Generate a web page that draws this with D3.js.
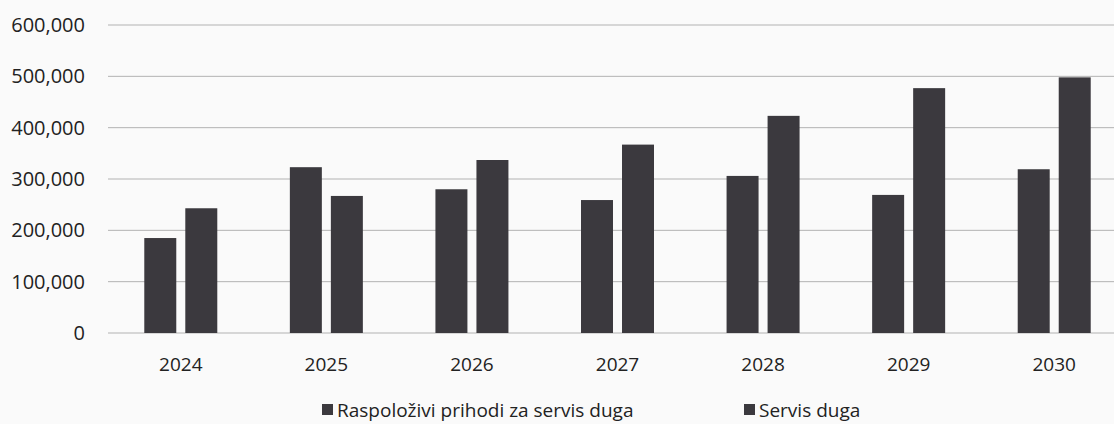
<!DOCTYPE html>
<html>
<head>
<meta charset="utf-8">
<script src="https://cdn.jsdelivr.net/npm/d3@7"></script>
<style>
  body { margin: 0; background: #fafafa; }
  svg { display: block; font-family: "Open Sans", sans-serif; }
</style>
</head>
<body>
<div id="chart"></div>
<script>
// chart values
var years = ["2024", "2025", "2026", "2027", "2028", "2029", "2030"];
var seriesNames = ["Raspoloživi prihodi za servis duga", "Servis duga"];
var available = [185000, 323000, 280000, 259000, 306000, 269000, 319000];
var debtService = [243000, 267000, 337000, 367000, 423000, 477000, 498000];
var yTicks = [0, 100000, 200000, 300000, 400000, 500000, 600000];

function init() {
  var w = 1114;
  var h = 424;
  var left = 108;
  var barColor = "#3b393e";

  var svg = d3.select("#chart")
    .append("svg")
    .attr("width", w)
    .attr("height", h);

  //scales
  var yScale = d3.scaleLinear().domain([0, 600000]).range([333, 25]);
  var xScale = d3.scaleBand().domain(years).range([left, 1127]);
  var groupW = 73;
  var x1 = d3.scaleBand().domain(seriesNames).range([0, groupW]).paddingInner(0.22);

  //gridlines
  svg.append("g")
    .selectAll("line")
    .data(yTicks)
    .enter()
    .append("line")
    .attr("x1", left)
    .attr("x2", w)
    .attr("y1", function (d) { return yScale(d); })
    .attr("y2", function (d) { return yScale(d); })
    .attr("stroke", "#b2b2b2")
    .attr("stroke-width", 1);

  //y axis labels
  var yAxis = d3.axisLeft(yScale)
    .tickValues(yTicks)
    .tickFormat(d3.format(","))
    .tickSize(0)
    .tickPadding(0);
  var gy = svg.append("g")
    .attr("transform", "translate(85,0)")
    .call(yAxis);
  gy.select(".domain").remove();
  gy.selectAll("text")
    .style("font-family", "Open Sans, sans-serif")
    .style("font-size", "20px")
    .attr("fill", "#222");

  //x axis labels
  var xAxis = d3.axisBottom(xScale).tickSize(0).tickPadding(0);
  var gx = svg.append("g")
    .attr("transform", "translate(0,357)")
    .call(xAxis);
  gx.select(".domain").remove();
  gx.selectAll("text")
    .style("font-family", "Open Sans, sans-serif")
    .style("font-size", "19px")
    .attr("fill", "#222");

  //bars
  var rows = years.map(function (y, i) {
    return { year: y, values: [available[i], debtService[i]] };
  });
  var offset = (xScale.bandwidth() - groupW) / 2;

  var groups = svg.append("g")
    .selectAll("g")
    .data(rows)
    .enter()
    .append("g")
    .attr("transform", function (d) {
      return "translate(" + (xScale(d.year) + offset) + ",0)";
    });

  groups.selectAll("rect")
    .data(function (d) {
      return d.values.map(function (v, j) { return { name: seriesNames[j], value: v }; });
    })
    .enter()
    .append("rect")
    .attr("x", function (d) { return x1(d.name); })
    .attr("y", function (d) { return yScale(d.value); })
    .attr("width", x1.bandwidth())
    .attr("height", function (d) { return yScale(0) - yScale(d.value); })
    .attr("fill", barColor);

  //legend
  var legend = svg.append("g").attr("transform", "translate(0,410)");
  var legendX = [322, 744];
  seriesNames.forEach(function (name, i) {
    legend.append("rect")
      .attr("x", legendX[i])
      .attr("y", -6)
      .attr("width", 11)
      .attr("height", 11)
      .attr("fill", barColor);
    legend.append("text")
      .attr("x", legendX[i] + 15)
      .attr("y", 0)
      .attr("dy", "0.35em")
      .style("font-size", "19px")
      .attr("fill", "#222")
      .text(name);
  });
}

window.onload = init;
</script>
</body>
</html>
